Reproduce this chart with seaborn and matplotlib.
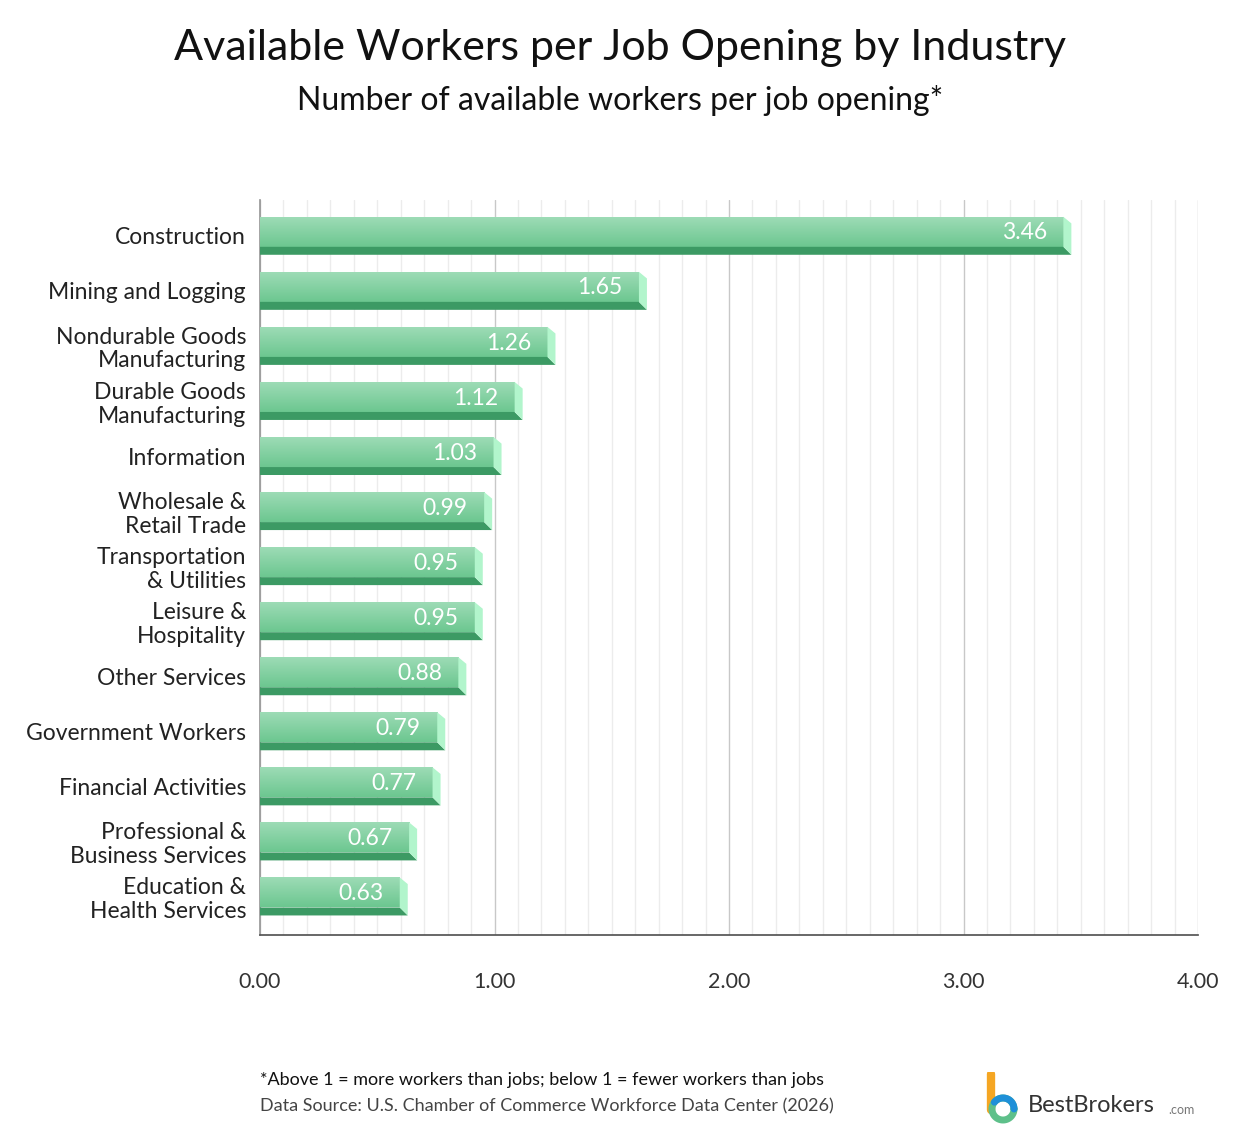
import numpy as np
import pandas as pd
import matplotlib
matplotlib.use("Agg")
import matplotlib.pyplot as plt
import seaborn as sns
from matplotlib.patches import Polygon, Rectangle
from matplotlib.ticker import MultipleLocator

# ── data ─────────────────────────────────────────────────────────────────────
industries = [
    "Construction", "Mining and Logging", "Nondurable Goods\nManufacturing",
    "Durable Goods\nManufacturing", "Information", "Wholesale &\nRetail Trade",
    "Transportation\n& Utilities", "Leisure &\nHospitality", "Other Services",
    "Government Workers", "Financial Activities", "Professional &\nBusiness Services",
    "Education &\nHealth Services",
]
workers_per_opening = [3.46, 1.65, 1.26, 1.12, 1.03, 0.99, 0.95, 0.95, 0.88, 0.79, 0.77, 0.67, 0.63]
x_ticks = [0, 1, 2, 3, 4]

df = pd.DataFrame({"industry": industries, "value": workers_per_opening})

sns.set_theme(style="white")
plt.rcParams["font.family"] = ["Lato", "DejaVu Sans"]

fig = plt.figure(figsize=(12.4, 11.43), dpi=100)
ax = fig.add_axes([260 / 1240, 1 - 935 / 1143, 938 / 1240, 735 / 1143])

BAR_H = 0.69
DARK = "#3c9a64"
sns.barplot(data=df, x="value", y="industry", orient="h", color=DARK,
            width=BAR_H, saturation=1, ax=ax, zorder=3)

ax.set_xlim(0, 4)
ax.set_ylim(12.7, -0.65)

# gradient top faces + side faces
grad = np.linspace(0, 1, 64).reshape(-1, 1)
cmap = matplotlib.colors.LinearSegmentedColormap.from_list("g", ["#9fdcb7", "#6cc790"])
dx = 8 / 234.5          # side depth in data units
for p, v in zip(ax.patches, workers_per_opening):
    y0 = p.get_y()
    h = p.get_height()
    top = y0
    face_bot = y0 + h * 0.79
    xe = v
    rect = Rectangle((0, top), xe - dx, face_bot - top, transform=ax.transData)
    im = ax.imshow(grad, extent=(0, xe - dx, face_bot, top), cmap=cmap,
                   aspect="auto", zorder=4, interpolation="bicubic")
    im.set_clip_path(rect)
    # dark bottom strip with slanted end
    ax.add_patch(Polygon([(0, face_bot), (xe - dx, face_bot), (xe, y0 + h), (0, y0 + h)],
                         closed=True, color=DARK, zorder=4, lw=0))
    p.set_visible(False)
    # light side face
    ax.add_patch(Polygon([(xe - dx, top), (xe, top + 0.12), (xe, y0 + h), (xe - dx, face_bot)],
                         closed=True, color="#b2f5cc", zorder=4, lw=0))
    ax.text(xe - dx - 0.07, (top + face_bot) / 2 + 0.02, f"{v:.2f}", ha="right", va="center",
            color="white", fontsize=16.5, zorder=5)

ax.xaxis.set_minor_locator(MultipleLocator(0.1))
ax.set_xticks(x_ticks)
ax.set_xticklabels([f"{t:.2f}" for t in x_ticks], fontsize=15.5, color="#333333")
ax.grid(which="minor", axis="x", color="#ececec", lw=1, zorder=0)
ax.grid(which="major", axis="x", color="#c8c8c8", lw=1, zorder=1)
ax.tick_params(axis="x", which="both", length=0, pad=27)
ax.tick_params(axis="y", length=0, pad=10, labelsize=16.5, labelcolor="#222222")
ax.set_xlabel("")
ax.set_ylabel("")
for s in ["top", "right"]:
    ax.spines[s].set_visible(False)
ax.spines["left"].set_color("#999999")
ax.spines["bottom"].set_color("#555555")
ax.spines["bottom"].set_zorder(6)
for lbl in ax.get_yticklabels():
    lbl.set_linespacing(1.15)

fig.text(0.5, 1 - 48 / 1143, "Available Workers per Job Opening by Industry",
         ha="center", va="center", fontsize=31, color="#111111")
fig.text(0.5, 1 - 101 / 1143, "Number of available workers per job opening*",
         ha="center", va="center", fontsize=23, color="#111111")
fig.text(260 / 1240, 1 - 1080 / 1143,
         "*Above 1 = more workers than jobs; below 1 = fewer workers than jobs",
         ha="left", va="center", fontsize=13, color="#111111")
fig.text(260 / 1240, 1 - 1106 / 1143,
         "Data Source: U.S. Chamber of Commerce Workforce Data Center (2026)",
         ha="left", va="center", fontsize=13, color="#444444")

# logo
fig.text(1028 / 1240, 1 - 1106 / 1143, "BestBrokers", ha="left", va="center",
         fontsize=17, color="#333333")
fig.text(1168 / 1240, 1 - 1110 / 1143, ".com", ha="left", va="center",
         fontsize=9, color="#777777")
lax = fig.add_axes([985 / 1240, 1 - 1124 / 1143, 36 / 1240, 52 / 1143])
lax.set_xlim(0, 36); lax.set_ylim(0, 52); lax.axis("off")
lax.plot([6, 6], [50, 14], color="#f5a623", lw=6, solid_capstyle="round")
t = np.linspace(0, 2 * np.pi, 100)
lax.plot(18 + 11 * np.cos(t), 15 + 11 * np.sin(t), color="#5ec08a", lw=5)
lax.plot(18 + 11 * np.cos(t[:40]), 15 + 11 * np.sin(t[:40]), color="#1e90d8", lw=5)

fig.savefig("out.png", dpi=100)
